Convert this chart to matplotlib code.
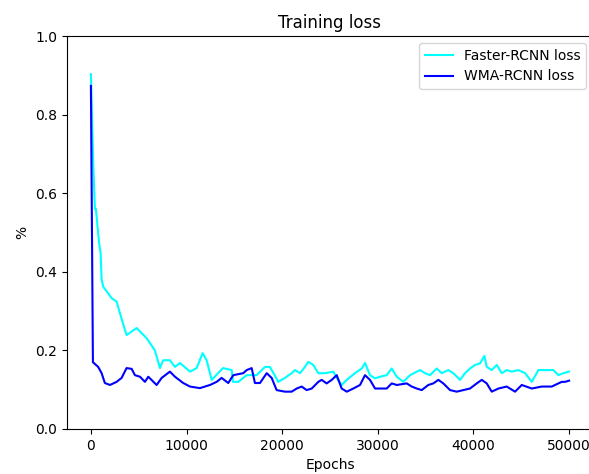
import matplotlib
matplotlib.use("Agg")
import matplotlib.pyplot as plt

# Faster-RCNN loss
faster_epochs = [0, 240, 420, 520, 870, 1010, 1120, 1290, 2170, 2690, 3030, 3560, 3740,
                 4780, 5830, 6690, 7220, 7560, 8260, 8790, 9310, 10360, 11060, 11680,
                 12100, 12630, 13810, 14720, 14850, 15410, 16290, 17330, 18200, 18720,
                 19250, 19590, 20290, 20990, 21340, 21860, 22380, 22730, 23250, 23780,
                 24480, 25350, 25700, 26220, 26750, 27610, 28320, 28660, 29180, 29710,
                 30230, 30930, 31450, 31980, 32670, 33370, 34410, 34940, 35460, 36160,
                 36680, 37370, 37900, 38600, 39120, 39640, 40170, 40690, 41140, 41390,
                 41910, 42440, 42960, 43480, 44010, 44700, 45400, 46100, 46790, 47670,
                 48360, 48880, 49400, 50000]
faster_loss = [0.903, 0.677, 0.56, 0.56, 0.47, 0.45, 0.38, 0.362, 0.333, 0.324, 0.295,
               0.252, 0.239, 0.257, 0.231, 0.20, 0.155, 0.175, 0.175, 0.158, 0.168,
               0.146, 0.155, 0.193, 0.175, 0.125, 0.155, 0.15, 0.12, 0.12, 0.137,
               0.137, 0.158, 0.158, 0.135, 0.12, 0.13, 0.142, 0.15, 0.142, 0.158,
               0.171, 0.163, 0.142, 0.142, 0.146, 0.13, 0.112, 0.125, 0.142, 0.154,
               0.168, 0.137, 0.129, 0.133, 0.137, 0.154, 0.133, 0.12, 0.137, 0.15,
               0.142, 0.137, 0.154, 0.142, 0.15, 0.142, 0.125, 0.142, 0.154, 0.163,
               0.167, 0.186, 0.158, 0.15, 0.163, 0.142, 0.15, 0.146, 0.15, 0.142,
               0.12, 0.15, 0.15, 0.15, 0.137, 0.142, 0.146]

# WMA-RCNN loss
wma_epochs = [0, 210, 760, 1120, 1460, 1990, 2690, 3210, 3730, 4260, 4600, 5130, 5650,
              6000, 6870, 7400, 8260, 8790, 9650, 10360, 11400, 12450, 13150, 13670,
              14360, 14890, 15930, 16290, 16810, 17150, 17680, 18380, 18900, 19420,
              20290, 20990, 21520, 22040, 22560, 23090, 23780, 24130, 24650, 25180,
              25700, 26220, 26750, 27440, 28140, 28660, 29180, 29710, 30230, 30930,
              31450, 31980, 33020, 33550, 34070, 34590, 35280, 35800, 36330, 36850,
              37550, 38250, 38940, 39640, 40340, 40870, 41390, 41910, 42610, 43480,
              44350, 45050, 46100, 47140, 48190, 48880, 49240, 49580, 50000]
wma_loss = [0.873, 0.17, 0.158, 0.142, 0.117, 0.112, 0.12, 0.13, 0.155, 0.153, 0.137,
            0.133, 0.12, 0.133, 0.112, 0.13, 0.146, 0.133, 0.117, 0.108, 0.104, 0.112,
            0.12, 0.13, 0.117, 0.137, 0.142, 0.15, 0.155, 0.117, 0.117, 0.142, 0.13,
            0.099, 0.095, 0.095, 0.103, 0.108, 0.099, 0.103, 0.12, 0.125, 0.116,
            0.125, 0.137, 0.103, 0.095, 0.103, 0.112, 0.137, 0.125, 0.103, 0.103,
            0.103, 0.116, 0.112, 0.116, 0.108, 0.103, 0.099, 0.112, 0.116, 0.125,
            0.116, 0.099, 0.095, 0.099, 0.103, 0.116, 0.125, 0.116, 0.095, 0.103,
            0.108, 0.095, 0.112, 0.103, 0.108, 0.108, 0.116, 0.12, 0.12, 0.123]

fig = plt.figure(figsize=(5.89, 4.74), dpi=100)
# the reference is cropped on the right, so the axes runs slightly past the figure edge
ax = fig.add_axes([67 / 589, 45 / 474, 526 / 589, 393 / 474])

ax.plot(faster_epochs, faster_loss, color="cyan", linewidth=1.5, label="Faster-RCNN loss")
ax.plot(wma_epochs, wma_loss, color="blue", linewidth=1.5, label="WMA-RCNN loss")

ax.set_ylim(0, 1.0)
ax.set_xticks([0, 10000, 20000, 30000, 40000, 50000])
ax.set_title("Training loss")
ax.set_xlabel("Epochs")
ax.set_ylabel("%")
ax.legend(loc="upper right")
# right spine falls outside the cropped reference
ax.spines["right"].set_visible(False)

fig.savefig("out.png", dpi=100)
